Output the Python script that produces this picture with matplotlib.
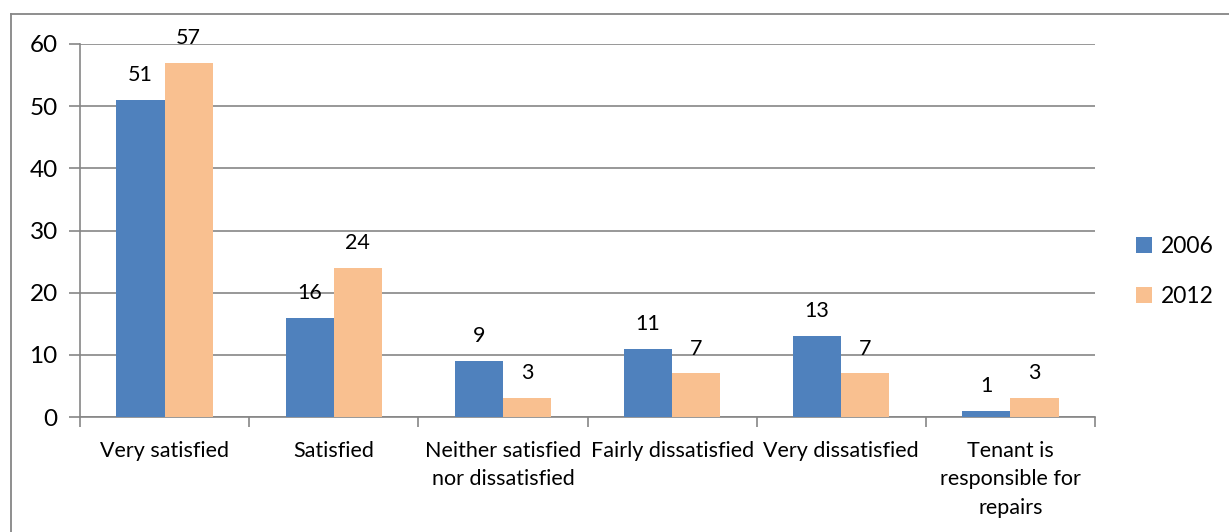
import matplotlib
matplotlib.use("Agg")
import matplotlib.pyplot as plt
from matplotlib.lines import Line2D
import numpy as np

categories = ["Very satisfied", "Satisfied", "Neither satisfied\nnor dissatisfied",
              "Fairly dissatisfied", "Very dissatisfied",
              "Tenant is\nresponsible for\nrepairs"]
series_names = ["2006", "2012"]
values_2006 = [51, 16, 9, 11, 13, 1]
values_2012 = [57, 24, 3, 7, 7, 3]
y_ticks = [0, 10, 20, 30, 40, 50, 60]

colors = ["#4F81BD", "#F9C090"]
grid_color = "#868686"

plt.rcParams["font.family"] = ["Lato", "DejaVu Sans"]

fig = plt.figure(figsize=(12.29, 5.32), dpi=100)
ax = fig.add_axes([80 / 1229, 1 - 417 / 532, (1095 - 80) / 1229, (417 - 44) / 532])

x = np.arange(len(categories))
w = 0.285
bars1 = ax.bar(x - w / 2, values_2006, w, color=colors[0], label=series_names[0], zorder=3)
bars2 = ax.bar(x + w / 2, values_2012, w, color=colors[1], label=series_names[1], zorder=3)

for bars, vals in ((bars1, values_2006), (bars2, values_2012)):
    for b, v in zip(bars, vals):
        ax.text(b.get_x() + b.get_width() / 2, v + 2.4, str(v), ha="center", va="bottom",
                fontsize=15.5, color="black")

ax.set_xlim(-0.5, len(categories) - 0.5)
ax.set_ylim(0, 60)
ax.set_yticks(y_ticks)
ax.set_yticklabels([str(t) for t in y_ticks], fontsize=17.5)
ax.yaxis.grid(True, color=grid_color, linewidth=1.2, zorder=0)
ax.set_axisbelow(True)

# category labels centred, tick marks between groups
ax.set_xticks(x)
ax.set_xticklabels(categories, fontsize=15.5, linespacing=1.55, va="top")
ax.tick_params(axis="x", length=0, pad=17)
ax.set_xticks(np.arange(-0.5, len(categories)), minor=True)
ax.tick_params(axis="x", which="minor", length=7, width=1.2, color=grid_color, direction="out")
ax.tick_params(axis="y", length=8, width=1.2, color=grid_color, pad=8)

for s in ("top", "right"):
    ax.spines[s].set_visible(False)
for s in ("left", "bottom"):
    ax.spines[s].set_color(grid_color)
    ax.spines[s].set_linewidth(1.2)

leg = ax.legend(loc="center left", bbox_to_anchor=(1.02, 0.39), frameon=False,
                fontsize=16.5, handlelength=0.7, handleheight=0.7, handletextpad=0.4,
                labelspacing=1.25)

# outer chart border
fig.add_artist(Line2D([11 / 1229, 11 / 1229], [0, 1 - 14 / 532], transform=fig.transFigure,
                      color=grid_color, linewidth=1.3))
fig.add_artist(Line2D([11 / 1229, 1], [1 - 14 / 532, 1 - 14 / 532], transform=fig.transFigure,
                      color=grid_color, linewidth=1.3))

fig.savefig("out.png", dpi=100)
